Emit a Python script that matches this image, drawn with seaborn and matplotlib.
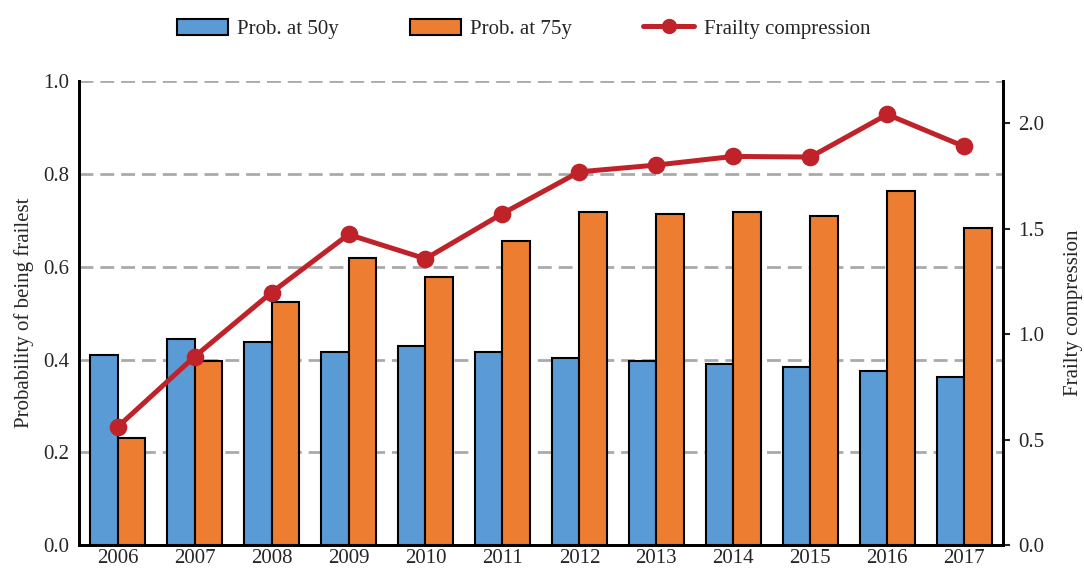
import pandas as pd
import matplotlib.pyplot as plt
import seaborn as sns
from matplotlib.patches import Patch
from matplotlib.lines import Line2D

# Values
years = ['2006', '2007', '2008', '2009', '2010', '2011',
         '2012', '2013', '2014', '2015', '2016', '2017']
prob_50 = [0.411, 0.444, 0.439, 0.417, 0.429, 0.417,
           0.404, 0.396, 0.390, 0.384, 0.376, 0.363]
prob_75 = [0.232, 0.398, 0.525, 0.618, 0.579, 0.656,
           0.719, 0.714, 0.717, 0.710, 0.764, 0.684]
frailty = [0.561, 0.894, 1.198, 1.473, 1.358, 1.572,
           1.770, 1.802, 1.843, 1.840, 2.042, 1.890]
series_names = ['Prob. at 50y', 'Prob. at 75y']

BLUE = '#5B9BD5'
ORANGE = '#ED7D31'
RED = '#C0222A'
FS = 15

df = pd.DataFrame({
    'year': years * 2,
    'prob': prob_50 + prob_75,
    'series': [series_names[0]] * len(years) + [series_names[1]] * len(years),
})
df_line = pd.DataFrame({'year': years, 'fc': frailty})

sns.set_style('white')
plt.rcParams['font.family'] = ['Liberation Serif', 'DejaVu Serif']
plt.rcParams['font.size'] = FS

fig, ax = plt.subplots(figsize=(10.84, 5.71), dpi=100)
fig.subplots_adjust(left=0.073, right=0.925, top=0.858, bottom=0.045)

sns.barplot(data=df, x='year', y='prob', hue='series', hue_order=series_names,
            palette=[BLUE, ORANGE], saturation=1, width=0.72,
            edgecolor='black', linewidth=1.5, ax=ax, zorder=3)
ax.get_legend().remove()
ax.set_ylim(0, 1.0)
ax.set_xlim(-0.5, len(years) - 0.5)
ax.set_yticks([0.0, 0.2, 0.4, 0.6, 0.8, 1.0])
ax.set_yticklabels(['0.0', '0.2', '0.4', '0.6', '0.8', '1.0'])
ax.set_xlabel('')
ax.set_ylabel('Probability of being frailest', fontsize=FS, labelpad=7)
ax.yaxis.grid(True, color='#AAAAAA', linestyle=(0, (5, 2.5)), linewidth=2)
ax.set_axisbelow(True)
ax.tick_params(axis='y', length=0, labelsize=FS, pad=7)
ax.tick_params(axis='x', length=0, labelsize=FS, pad=3)

ax2 = ax.twinx()
sns.pointplot(data=df_line, x='year', y='fc', color=RED, markers='o',
              markersize=10, linewidth=3.6, ax=ax2)
ax2.set_ylim(0, 2.2)
ax2.set_xlim(-0.5, len(years) - 0.5)
ax2.set_yticks([0.0, 0.5, 1.0, 1.5, 2.0])
ax2.set_yticklabels(['0.0', '0.5', '1.0', '1.5', '2.0'])
ax2.set_ylabel('Frailty compression', fontsize=FS, labelpad=14)
ax2.tick_params(axis='y', length=5, width=1.5, direction='out', labelsize=FS, pad=6)

for a in (ax, ax2):
    a.spines['top'].set_visible(False)
    for s in ('left', 'right', 'bottom'):
        a.spines[s].set_color('black')
        a.spines[s].set_linewidth(2)

handles = [
    Patch(facecolor=BLUE, edgecolor='black', linewidth=1.5, label=series_names[0]),
    Patch(facecolor=ORANGE, edgecolor='black', linewidth=1.5, label=series_names[1]),
    Line2D([0], [0], color=RED, linewidth=3.6, marker='o', markersize=10,
           label='Frailty compression'),
]
fig.legend(handles=handles, loc='upper center', bbox_to_anchor=(0.483, 1.0),
           ncol=3, frameon=False, fontsize=FS, handlelength=2.45,
           handleheight=0.8, columnspacing=3.4, handletextpad=0.45)

plt.savefig('out.png', dpi=100)
